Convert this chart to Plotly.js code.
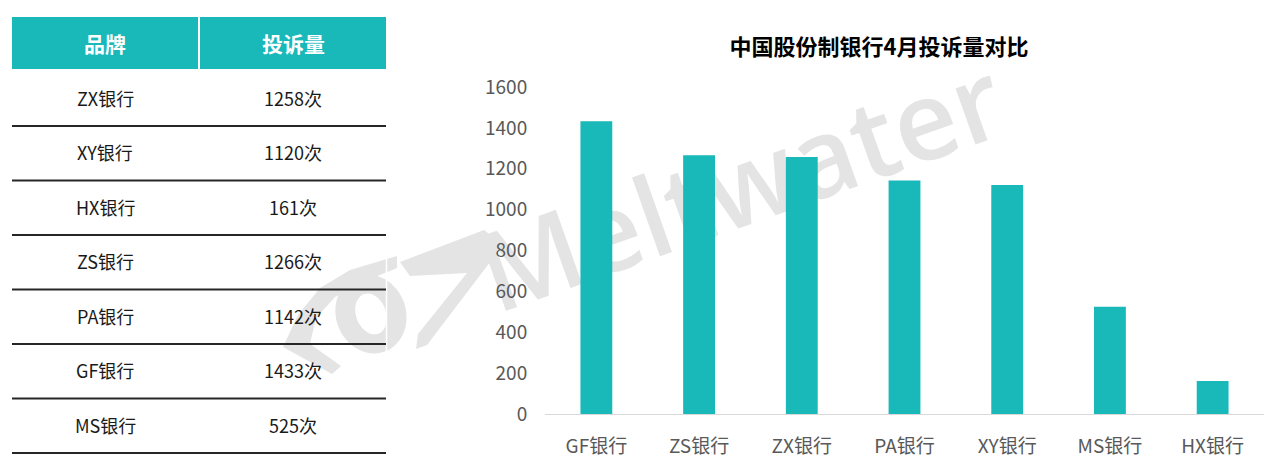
<!DOCTYPE html>
<html>
<head>
<meta charset="utf-8">
<script src="https://cdn.plot.ly/plotly-3.0.1.min.js"></script>
<style>
  html, body { margin: 0; padding: 0; background: #ffffff; }
  #wrap { position: relative; width: 1272px; height: 467px; overflow: hidden; }
  #mark, #chart { position: absolute; left: 0; top: 0; width: 1272px; height: 467px; }
</style>
</head>
<body>
<div id="wrap">
  <!-- faint brand watermark sitting underneath the chart -->
  <svg id="mark" width="1272" height="467" xmlns="http://www.w3.org/2000/svg">
    <g fill="#e4e4e4">
      <polygon points="397,256 350,270 320,288 298,315 283,347 332,374 341,366 310,344 316,318 335,297 365,281 397,268"/>
      <polygon points="400,262 484,230 503,245 427,345 416,349 418,334 467,273 410,276"/>
      <path fill-rule="evenodd" transform="rotate(-20 371 314)"
            d="M 371,274 A 35,40 0 1,1 370.9,274 Z M 371,293 A 15,21 0 1,0 371.1,293 Z"/>
    </g>
    <text x="754" y="223" text-anchor="middle" transform="rotate(-19.5 754 223)"
          font-family="Open Sans, sans-serif" font-weight="600" font-size="110" fill="#e4e4e4">Meltwater</text>
  </svg>
  <div id="chart"></div>
</div>
<script>
// April complaint counts, chart order (sorted high to low)
const banks = ['GF银行', 'ZS银行', 'ZX银行', 'PA银行', 'XY银行', 'MS银行', 'HX银行'];
const complaints = [1433, 1266, 1258, 1142, 1120, 525, 161];

// Summary table (its own row order)
const tableHeader = ['品牌', '投诉量'];
const tableBanks = ['ZX银行', 'XY银行', 'HX银行', 'ZS银行', 'PA银行', 'GF银行', 'MS银行'];
const tableCounts = [1258, 1120, 161, 1266, 1142, 1433, 525];

const yTicks = [0, 200, 400, 600, 800, 1000, 1200, 1400, 1600];

const TEAL = '#19B8B9';
const FONT = 'Noto Sans CJK SC, Noto Sans, sans-serif';

// page geometry
const W = 1272, H = 467;
const M = { l: 545, r: 8, t: 87, b: 53 };
const PW = W - M.l - M.r, PH = H - M.t - M.b;
const px = x => (x - M.l) / PW;          // page pixel -> paper x
const py = y => (H - M.b - y) / PH;      // page pixel -> paper y

// table layout (page pixels)
const T = { left: 12, right: 386, top: 17, headBottom: 69, split: 199,
            col1: 105, col2: 293, firstRowMid: 97.5, rowH: 54.5, firstLine: 126 };

const shapes = [];
const annotations = [];

// thin white edge on the table's right side
shapes.push({ type: 'line', xref: 'paper', yref: 'paper',
  x0: px(T.right + 0.5), x1: px(T.right + 0.5), y0: py(T.firstLine + 6 * T.rowH), y1: py(T.headBottom),
  line: { color: '#ffffff', width: 1.5 }, layer: 'above' });

// header band
shapes.push({ type: 'rect', xref: 'paper', yref: 'paper',
  x0: px(T.left), x1: px(T.right), y0: py(T.headBottom), y1: py(T.top),
  fillcolor: TEAL, line: { width: 0 }, layer: 'above' });
shapes.push({ type: 'line', xref: 'paper', yref: 'paper',
  x0: px(T.split), x1: px(T.split), y0: py(T.headBottom), y1: py(T.top),
  line: { color: '#ffffff', width: 2 }, layer: 'above' });
[T.col1, T.col2].forEach((cx, i) => {
  annotations.push({ xref: 'paper', yref: 'paper', x: px(cx), y: py((T.top + T.headBottom) / 2),
    text: '<b>' + tableHeader[i] + '</b>', showarrow: false, xanchor: 'center', yanchor: 'middle',
    font: { family: FONT, size: 21, color: '#ffffff' } });
});

// body rows with a rule under each
tableBanks.forEach((b, i) => {
  const mid = T.firstRowMid + i * T.rowH;
  annotations.push({ xref: 'paper', yref: 'paper', x: px(T.col1), y: py(mid),
    text: b, showarrow: false, xanchor: 'center', yanchor: 'middle',
    font: { family: FONT, size: 18, color: '#1a1a1a' } });
  annotations.push({ xref: 'paper', yref: 'paper', x: px(T.col2), y: py(mid),
    text: tableCounts[i] + '次', showarrow: false, xanchor: 'center', yanchor: 'middle',
    font: { family: FONT, size: 18, color: '#1a1a1a' } });
  const ly = T.firstLine + i * T.rowH;
  shapes.push({ type: 'line', xref: 'paper', yref: 'paper',
    x0: px(T.left), x1: px(T.right), y0: py(ly), y1: py(ly),
    line: { color: '#262626', width: 2 }, layer: 'above' });
});

const trace = {
  type: 'bar',
  x: banks,
  y: complaints,
  marker: { color: TEAL, line: { width: 0 } },
  hoverinfo: 'x+y'
};

const layout = {
  width: W, height: H,
  margin: M,
  paper_bgcolor: 'rgba(0,0,0,0)',
  plot_bgcolor: 'rgba(0,0,0,0)',
  showlegend: false,
  bargap: 0.69,
  title: {
    text: '<b>中国股份制银行4月投诉量对比</b>',
    xref: 'container', yref: 'container',
    x: 879 / W, y: 1 - 47 / H, xanchor: 'center', yanchor: 'middle',
    font: { family: FONT, size: 22, color: '#000000' }
  },
  xaxis: {
    type: 'category',
    showgrid: false, zeroline: false,
    showline: true, linecolor: '#d9d9d9', linewidth: 1,
    ticks: 'outside', ticklen: 15, tickcolor: 'rgba(0,0,0,0)',
    tickfont: { family: FONT, size: 19, color: '#595959' }
  },
  yaxis: {
    range: [0, 1600],
    tickvals: yTicks,
    ticktext: yTicks.map(String),
    showgrid: false, zeroline: false, showline: false,
    ticks: 'outside', ticklen: 13, tickcolor: 'rgba(0,0,0,0)',
    tickfont: { family: FONT, size: 19, color: '#595959' }
  },
  shapes: shapes,
  annotations: annotations
};

Plotly.newPlot('chart', [trace], layout, { displayModeBar: false, staticPlot: true });
</script>
</body>
</html>
